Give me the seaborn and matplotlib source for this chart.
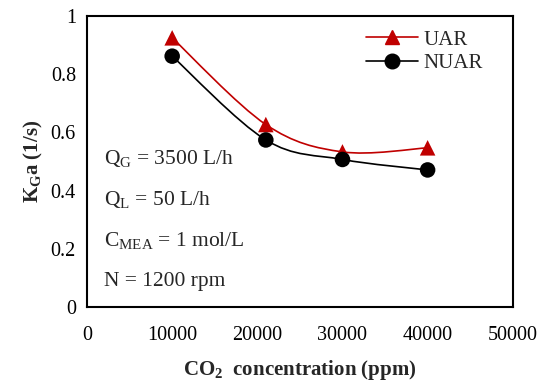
import numpy as np
import pandas as pd
import seaborn as sns
import matplotlib
matplotlib.use("Agg")
import matplotlib.pyplot as plt
from matplotlib.path import Path
from matplotlib.patches import PathPatch
from matplotlib.lines import Line2D

# ---- data ----
co2_ppm = [10000, 21000, 30000, 40000]
uar = [0.925, 0.627, 0.533, 0.547]
nuar = [0.862, 0.574, 0.507, 0.471]
series_names = ["UAR", "NUAR"]
x_ticks = [0, 10000, 20000, 30000, 40000, 50000]
y_ticks = [0, 0.2, 0.4, 0.6, 0.8, 1.0]
y_tick_labels = ["0", "0.2", "0.4", "0.6", "0.8", "1"]
notes = [r"$\mathregular{Q_{G}}$ = 3500 L/h", r"$\mathregular{Q_{L}}$ = 50 L/h",
         r"$\mathregular{C_{MEA}}$ = 1 mol/L", "N = 1200 rpm"]

sns.set_theme(style="white")
plt.rcParams["font.family"] = ["Liberation Serif", "DejaVu Serif"]
plt.rcParams["mathtext.fontset"] = "custom"
plt.rcParams["mathtext.rm"] = "Liberation Serif"
plt.rcParams["mathtext.bf"] = "Liberation Serif:bold"
plt.rcParams["mathtext.default"] = "regular"

df = pd.DataFrame({
    "x": co2_ppm * 2,
    "y": uar + nuar,
    "series": [series_names[0]] * len(co2_ppm) + [series_names[1]] * len(co2_ppm),
})

fig = plt.figure(figsize=(5.49, 3.86), dpi=100)
ax = fig.add_axes([0.1585, 0.2047, 0.934 - 0.1585, 0.9585 - 0.2047])

colors = {"UAR": "#C00000", "NUAR": "#000000"}
markers = {"UAR": "^", "NUAR": "o"}


def smooth_path(xs, ys):
    pts = np.column_stack([xs, ys]).astype(float)
    n = len(pts)
    verts = [pts[0]]
    codes = [Path.MOVETO]
    for i in range(n - 1):
        p0 = pts[i - 1] if i > 0 else pts[i]
        p1 = pts[i]
        p2 = pts[i + 1]
        p3 = pts[i + 2] if i + 2 < n else pts[i + 1]
        c1 = p1 + (p2 - p0) / 6.0
        c2 = p2 - (p3 - p1) / 6.0
        verts += [c1, c2, p2]
        codes += [Path.CURVE4] * 3
    return Path(verts, codes)


for name, vals in zip(series_names, [uar, nuar]):
    ax.add_patch(PathPatch(smooth_path(co2_ppm, vals), facecolor="none",
                           edgecolor=colors[name], lw=1.2, zorder=2))

sns.scatterplot(data=df, x="x", y="y", hue="series", style="series",
                palette=colors, markers=markers, s=125, edgecolor="none",
                legend=False, ax=ax, zorder=3)

ax.set_xlim(0, 50000)
ax.set_ylim(0, 1)
ax.set_xticks(x_ticks)
ax.set_xticklabels([str(v) for v in x_ticks])
ax.set_yticks(y_ticks)
ax.set_yticklabels(y_tick_labels)
ax.tick_params(axis="x", direction="in", length=5, width=1.2, labelsize=14.5, pad=14, colors="black")
ax.tick_params(axis="y", direction="inout", length=8, width=1.2, labelsize=14.5, pad=4, colors="black")
for sp in ax.spines.values():
    sp.set_color("black")
    sp.set_linewidth(1.5)

ax.set_xlabel(r"CO$_\mathregular{2}$  concentration (ppm)", fontsize=15, fontweight="bold", labelpad=9)
ax.set_ylabel(r"$\mathregular{K_{G}}$a (1/s)", fontsize=15, fontweight="bold", labelpad=4)

for i, t in enumerate(notes):
    ax.text(2000, 0.491 - 0.14 * i, t, fontsize=15.5, ha="left", va="baseline")

handles = [Line2D([0], [0], color=colors[n], marker=markers[n], markersize=10.5, lw=1.2)
           for n in series_names]
ax.legend(handles, series_names, loc="upper right", bbox_to_anchor=(0.96, 0.995),
          frameon=False, fontsize=15, handlelength=2.5, handletextpad=0.3,
          labelspacing=0.2, borderaxespad=0.2)

fig.savefig("out.png", dpi=100)
